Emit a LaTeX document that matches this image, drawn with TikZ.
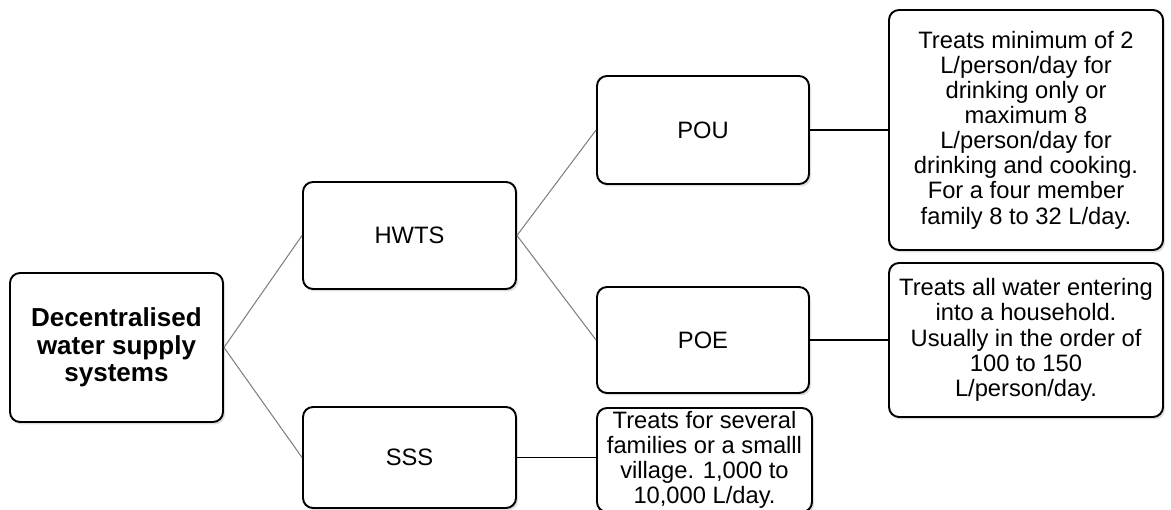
\documentclass[tikz,border=0pt]{standalone}
\usepackage{fontspec}
\setmainfont{Liberation Sans}
\usetikzlibrary{shadows}

\begin{document}
\begin{tikzpicture}[
  box/.style={draw,line width=1.1pt,rounded corners=0.2cm,fill=white,align=center,
    font=\fontsize{13.5}{14.3}\selectfont,
    drop shadow={opacity=0.25,shadow xshift=0.04cm,shadow yshift=-0.05cm}},
  thin link/.style={draw=gray,line width=0.6pt},
  link/.style={draw=black,line width=0.8pt}]
\useasboundingbox (0,0) rectangle (23.42,10.2);
\node[box,minimum width=4.26cm,minimum height=2.98cm,font=\fontsize{14.8}{15.6}\selectfont\bfseries] (root) at (2.33,3.25) {Decentralised\\water supply\\systems};
\node[box,minimum width=4.26cm,minimum height=2.14cm] (hwts) at (8.19,5.49) {HWTS};
\node[box,minimum width=4.26cm,minimum height=2.02cm] (sss) at (8.19,1.05) {SSS};
\node[box,minimum width=4.24cm,minimum height=2.16cm] (pou) at (14.06,7.6) {POU};
\node[box,minimum width=4.24cm,minimum height=2.12cm] (poe) at (14.06,3.4) {POE};
\node[box,minimum width=5.48cm,minimum height=4.8cm,inner sep=1pt] (poutxt) at (20.52,7.6) {Treats minimum of 2\\L/person/day for\\drinking only or\\maximum 8\\L/person/day for\\drinking and cooking.\\For a four member\\family 8 to 32 L/day.};
\node[box,minimum width=5.48cm,minimum height=3.08cm,inner sep=1pt] (poetxt) at (20.52,3.4) {Treats all water entering\\into a household.\\Usually in the order of\\100 to 150\\L/person/day.};
\node[box,minimum width=4.3cm,minimum height=2.08cm,inner sep=1pt] (ssstxt) at (14.09,1.0) {Treats for several\\families or a smalll\\village. 1,000 to\\10,000 L/day.};
\draw[thin link] (root.east) -- (hwts.west);
\draw[thin link] (root.east) -- (sss.west);
\draw[thin link] (hwts.east) -- (pou.west);
\draw[thin link] (hwts.east) -- (poe.west);
\draw[link] (pou.east) -- (poutxt.west);
\draw[link] (poe.east) -- (poetxt.west);
\draw[link] (sss.east) -- (ssstxt.west |- sss.east);
\end{tikzpicture}
\end{document}
